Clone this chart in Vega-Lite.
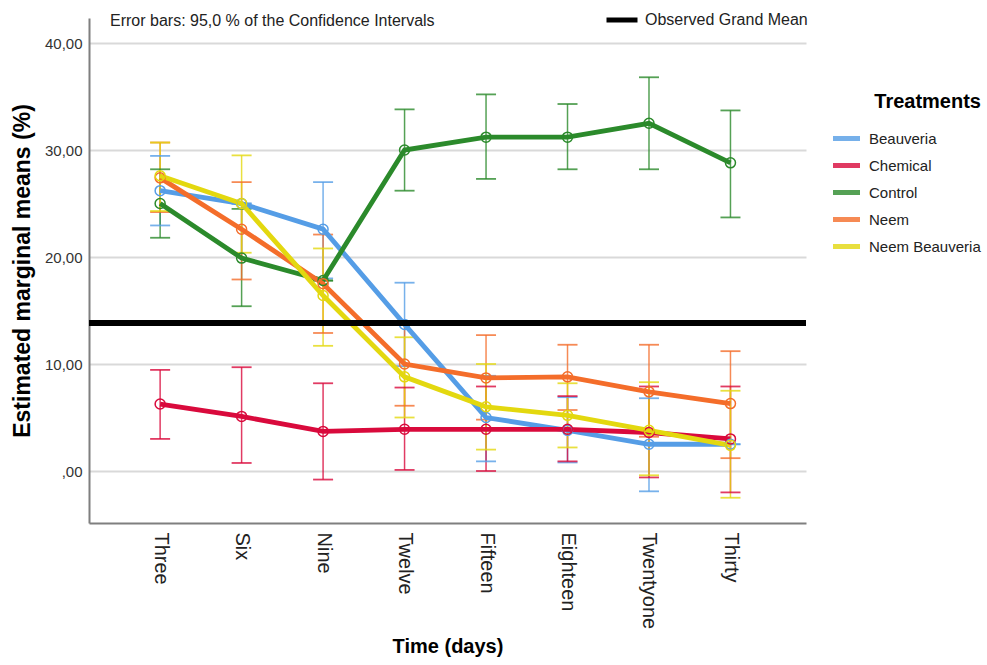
{
  "$schema": "https://vega.github.io/schema/vega-lite/v6.json",
  "width": 717,
  "height": 505,
  "autosize": {"type": "none"},
  "padding": {"left": 89, "top": 18, "right": 181, "bottom": 142},
  "background": "white",
  "config": {
    "font": "Liberation Sans",
    "view": {"stroke": null},
    "axis": {"labelFont": "Liberation Sans", "titleFont": "Liberation Sans", "labelColor": "#333333", "titleColor": "#000000"}
  },
  "title": {
    "text": "Error bars: 95,0 % of the Confidence Intervals",
    "anchor": "start",
    "frame": "group",
    "offset": -40,
    "baseline": "alphabetic",
    "dx": 21,
    "fontSize": 16,
    "fontWeight": "normal",
    "color": "#222222",
    "font": "Liberation Sans"
  },
  "data": {
    "values": [
      {"Time": "Three", "Treatment": "Beauveria", "mean": 26.2, "lo": 22.95, "hi": 29.45},
      {"Time": "Six", "Treatment": "Beauveria", "mean": 25.0, "lo": 25.0, "hi": 25.0},
      {"Time": "Nine", "Treatment": "Beauveria", "mean": 22.6, "lo": 18.0, "hi": 27.0},
      {"Time": "Twelve", "Treatment": "Beauveria", "mean": 13.7, "lo": 9.8, "hi": 17.6},
      {"Time": "Fifteen", "Treatment": "Beauveria", "mean": 5.0, "lo": 0.9, "hi": 8.9},
      {"Time": "Eighteen", "Treatment": "Beauveria", "mean": 3.8, "lo": 0.8, "hi": 6.9},
      {"Time": "Twentyone", "Treatment": "Beauveria", "mean": 2.5, "lo": -1.9, "hi": 6.8},
      {"Time": "Thirty", "Treatment": "Beauveria", "mean": 2.5, "lo": 2.5, "hi": 2.5},
      {"Time": "Three", "Treatment": "Chemical", "mean": 6.26, "lo": 3.0, "hi": 9.45},
      {"Time": "Six", "Treatment": "Chemical", "mean": 5.1, "lo": 0.75, "hi": 9.7},
      {"Time": "Nine", "Treatment": "Chemical", "mean": 3.7, "lo": -0.8, "hi": 8.2},
      {"Time": "Twelve", "Treatment": "Chemical", "mean": 3.9, "lo": 0.1, "hi": 7.8},
      {"Time": "Fifteen", "Treatment": "Chemical", "mean": 3.9, "lo": 0.0, "hi": 7.9},
      {"Time": "Eighteen", "Treatment": "Chemical", "mean": 3.9, "lo": 0.9, "hi": 7.0},
      {"Time": "Twentyone", "Treatment": "Chemical", "mean": 3.6, "lo": -0.6, "hi": 7.9},
      {"Time": "Thirty", "Treatment": "Chemical", "mean": 3.0, "lo": -2.0, "hi": 7.9},
      {"Time": "Three", "Treatment": "Control", "mean": 25.0, "lo": 21.8, "hi": 28.2},
      {"Time": "Six", "Treatment": "Control", "mean": 19.9, "lo": 15.4, "hi": 24.5},
      {"Time": "Nine", "Treatment": "Control", "mean": 17.8, "lo": 17.8, "hi": 17.8},
      {"Time": "Twelve", "Treatment": "Control", "mean": 30.0, "lo": 26.2, "hi": 33.8},
      {"Time": "Fifteen", "Treatment": "Control", "mean": 31.2, "lo": 27.3, "hi": 35.2},
      {"Time": "Eighteen", "Treatment": "Control", "mean": 31.2, "lo": 28.2, "hi": 34.3},
      {"Time": "Twentyone", "Treatment": "Control", "mean": 32.5, "lo": 28.2, "hi": 36.8},
      {"Time": "Thirty", "Treatment": "Control", "mean": 28.8, "lo": 23.7, "hi": 33.7},
      {"Time": "Three", "Treatment": "Neem", "mean": 27.4, "lo": 24.2, "hi": 30.7},
      {"Time": "Six", "Treatment": "Neem", "mean": 22.6, "lo": 17.9, "hi": 27.0},
      {"Time": "Nine", "Treatment": "Neem", "mean": 17.5, "lo": 12.9, "hi": 22.1},
      {"Time": "Twelve", "Treatment": "Neem", "mean": 10.0, "lo": 6.1, "hi": 13.9},
      {"Time": "Fifteen", "Treatment": "Neem", "mean": 8.7, "lo": 4.8, "hi": 12.7},
      {"Time": "Eighteen", "Treatment": "Neem", "mean": 8.8, "lo": 5.7, "hi": 11.8},
      {"Time": "Twentyone", "Treatment": "Neem", "mean": 7.4, "lo": 3.2, "hi": 11.8},
      {"Time": "Thirty", "Treatment": "Neem", "mean": 6.3, "lo": 1.2, "hi": 11.2},
      {"Time": "Three", "Treatment": "Neem Beauveria", "mean": 27.6, "lo": 24.3, "hi": 30.7},
      {"Time": "Six", "Treatment": "Neem Beauveria", "mean": 25.0, "lo": 20.4, "hi": 29.5},
      {"Time": "Nine", "Treatment": "Neem Beauveria", "mean": 16.4, "lo": 11.7, "hi": 20.8},
      {"Time": "Twelve", "Treatment": "Neem Beauveria", "mean": 8.8, "lo": 5.0, "hi": 12.5},
      {"Time": "Fifteen", "Treatment": "Neem Beauveria", "mean": 6.0, "lo": 2.0, "hi": 10.0},
      {"Time": "Eighteen", "Treatment": "Neem Beauveria", "mean": 5.2, "lo": 2.2, "hi": 8.2},
      {"Time": "Twentyone", "Treatment": "Neem Beauveria", "mean": 3.8, "lo": -0.4, "hi": 8.3},
      {"Time": "Thirty", "Treatment": "Neem Beauveria", "mean": 2.4, "lo": -2.5, "hi": 7.5}
    ]
  },
  "layer": [
    {
      "encoding": {
        "x": {
          "field": "Time",
          "type": "nominal",
          "sort": ["Three", "Six", "Nine", "Twelve", "Fifteen", "Eighteen", "Twentyone", "Thirty"],
          "scale": {"type": "point", "padding": 0.9, "align": 0.485},
          "axis": {
            "title": "Time (days)",
            "titleFontSize": 20,
            "titleFontWeight": "bold",
            "titlePadding": 8,
            "labelAngle": 90,
            "labelAlign": "left",
            "labelBaseline": "middle",
            "labelFontSize": 20,
            "labelPadding": 9,
            "labelColor": "#222222",
            "ticks": false,
            "domainColor": "#7f7f7f",
            "domainWidth": 2,
            "grid": false
          }
        },
        "color": {
          "field": "Treatment",
          "type": "nominal",
          "scale": {
            "domain": ["Beauveria", "Chemical", "Control", "Neem", "Neem Beauveria"],
            "range": ["#559de6", "#d90a3c", "#2b8a2b", "#f46d2a", "#e3d80f"]
          },
          "legend": {
            "title": "Treatments",
            "orient": "none",
            "legendX": 741,
            "legendY": 74,
            "padding": 0,
            "titleFontSize": 20,
            "titleFontWeight": "bold",
            "titleColor": "#000000",
            "titleAnchor": "end",
            "titlePadding": 10,
            "labelFontSize": 15,
            "labelColor": "#222222",
            "labelLimit": 300,
            "symbolType": "stroke",
            "symbolSize": 730,
            "symbolStrokeWidth": 5,
            "rowPadding": -1,
            "labelOffset": 6
          }
        }
      },
      "layer": [
        {
          "mark": {"type": "rule", "strokeWidth": 1.5, "opacity": 0.8},
          "encoding": {
            "y": {"field": "lo", "type": "quantitative"},
            "y2": {"field": "hi"}
          }
        },
        {
          "mark": {"type": "tick", "size": 20, "thickness": 1.8, "opacity": 0.8},
          "encoding": {
            "y": {"field": "lo", "type": "quantitative"}
          }
        },
        {
          "mark": {"type": "tick", "size": 20, "thickness": 1.8, "opacity": 0.8},
          "encoding": {
            "y": {"field": "hi", "type": "quantitative"}
          }
        },
        {
          "mark": {"type": "line", "strokeWidth": 4.8},
          "encoding": {
            "y": {
              "field": "mean",
              "type": "quantitative",
              "scale": {"domain": [-4.86, 42.34], "nice": false, "zero": false},
              "axis": {
                "title": "Estimated marginal means (%)",
                "titleFontSize": 23,
                "titleFontWeight": "bold",
                "titlePadding": 10,
                "values": [0, 10, 20, 30, 40],
                "labelExpr": "datum.value == 0 ? ',00' : replace(format(datum.value, '.2f'), '.', ',')",
                "labelFontSize": 15,
                "labelPadding": 7,
                "ticks": false,
                "domainColor": "#7f7f7f",
                "domainWidth": 2,
                "gridColor": "#d9d9d9",
                "gridWidth": 2
              }
            }
          }
        },
        {
          "mark": {"type": "point", "filled": false, "size": 100, "strokeWidth": 1.5, "opacity": 1},
          "encoding": {
            "y": {"field": "mean", "type": "quantitative"}
          }
        }
      ]
    },
    {
      "mark": {"type": "rule", "strokeWidth": 5},
      "encoding": {
        "y": {"datum": 13.83, "type": "quantitative"},
        "color": {
          "datum": "Observed Grand Mean",
          "type": "nominal",
          "scale": {"range": ["#000000"]},
          "legend": {
            "title": null,
            "orient": "none",
            "legendX": 515,
            "legendY": -16,
            "padding": 0,
            "labelFontSize": 16,
            "labelColor": "#222222",
            "labelLimit": 300,
            "symbolType": "stroke",
            "symbolSize": 961,
            "symbolStrokeWidth": 5,
            "labelOffset": 5
          }
        }
      }
    }
  ],
  "resolve": {"scale": {"color": "independent"}}
}
